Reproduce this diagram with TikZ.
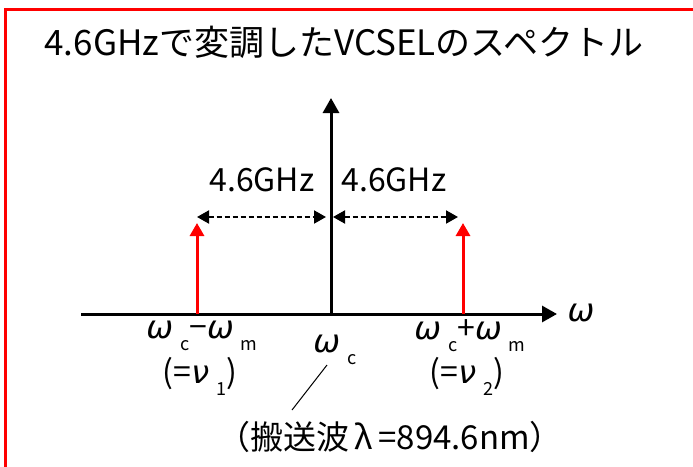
\documentclass[tikz,border=0pt]{standalone}
\usepackage{fontspec}
\setmainfont{Noto Sans CJK JP}
\newfontfamily\grk{DejaVu Sans}
\usetikzlibrary{arrows.meta}
\newcommand{\lowsub}[1]{\hspace{0.22em}\raisebox{-0.38em}{\fontsize{18}{18}\selectfont #1}}
\newcommand{\om}{{\grk\itshape ω}}
\tikzset{
  axisline/.style={line width=3pt, -{Triangle[length=15pt,width=16pt]}},
  sideband/.style={red, line width=3pt, -{Triangle[length=13pt,width=14pt]}},
  gap/.style={line width=2pt, dash pattern=on 5pt off 3pt, {Triangle[length=12pt,width=13pt]}-{Triangle[length=12pt,width=13pt]}},
  lbl/.style={inner sep=0pt, font=\fontsize{32}{32}\selectfont},
  leader/.style={line width=1pt}
}
\begin{document}
\begin{tikzpicture}[x=1pt,y=-1pt]
\useasboundingbox (0,0) rectangle (693,466);
\begin{scope}
\clip (0,0) rectangle (693,466);
\draw[red, line width=3pt] (5,9) rectangle (720,490);
\end{scope}
\node[lbl, font=\fontsize{35}{35}\selectfont] (title) at (344,42) {4.6GHzで変調したVCSELのスペクトル};
\coordinate (axL) at (81,314);
\coordinate (axR) at (557,314);
\coordinate (o) at (331,314);
\coordinate (axT) at (331,98);
\draw[axisline] (axL) -- (axR);
\draw[axisline] (o) -- (axT);
\coordinate (l0) at (197,314);
\coordinate (l1) at (197,223);
\coordinate (r0) at (463,314);
\coordinate (r1) at (463,223);
\draw[sideband] (l0) -- (l1);
\draw[sideband] (r0) -- (r1);
\coordinate (dl1) at (197,217);
\coordinate (dl2) at (326,217);
\coordinate (dr1) at (333,217);
\coordinate (dr2) at (458,217);
\draw[gap] (dl1) -- (dl2);
\draw[gap] (dr1) -- (dr2);
\node[lbl] (gl) at (262,180) {4.6GHz};
\node[lbl] (gr) at (394,180) {4.6GHz};
\node[lbl] (w) at (581,313) {\om};
\node[lbl] (wl) at (202,336) {\om\lowsub{c}−\om\lowsub{m}};
\node[lbl] (nl) at (200,376) {(={\grk\itshape ν}\lowsub{1})};
\node[lbl] (wc) at (335,350) {\om\lowsub{c}};
\node[lbl] (wr) at (470,336) {\om\lowsub{c}+\om\lowsub{m}};
\node[lbl] (nr) at (467,376) {(={\grk\itshape ν}\lowsub{2})};
\node[lbl, font=\fontsize{33}{33}\selectfont] (carrier) at (390,437) {（搬送波\,λ\,=894.6nm）};
\coordinate (ld1) at (327,365);
\coordinate (ld2) at (292,410);
\draw[leader] (ld1) -- (ld2);
\end{tikzpicture}
\end{document}
